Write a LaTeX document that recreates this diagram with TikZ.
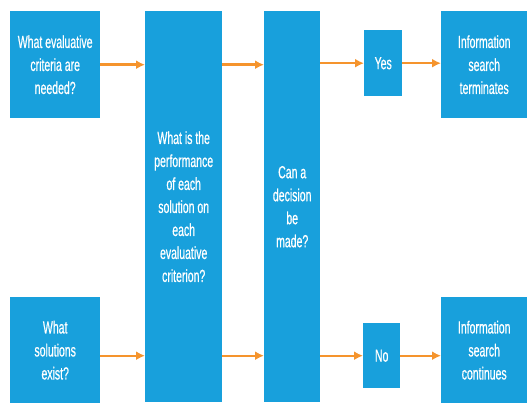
\documentclass[tikz,border=0pt]{standalone}
\usepackage{fontspec}
\setmainfont{Liberation Sans}[FakeStretch=0.6,FakeBold=0.6]
\usetikzlibrary{arrows.meta}

\definecolor{boxblue}{RGB}{24,160,220}
\definecolor{flowor}{RGB}{245,148,45}

\begin{document}
\begin{tikzpicture}[x=1pt,y=-1pt,>={Latex[length=9pt,width=9pt]},
  box/.style={fill=boxblue,text=white,align=center,inner sep=0pt,anchor=north west,
    font=\fontsize{17.5}{23}\selectfont},
  flow/.style={->,color=flowor,line width=2.4pt}]

\useasboundingbox (0,0) rectangle (527,403);

% left column
\node[box,minimum width=90pt,minimum height=107pt] (crit) at (10,11)
  {What evaluative\\criteria are\\needed?};
\node[box,minimum width=90pt,minimum height=106pt] (sol) at (10,297)
  {What\\solutions\\exist?};

% the two tall boxes
\node[box,minimum width=77pt,minimum height=391pt] (perf) at (145,11)
  {What is the\\performance\\of each\\solution on\\each\\evaluative\\criterion?};
\node[box,minimum width=56pt,minimum height=391pt] (dec) at (264,11)
  {Can a\\decision\\be\\made?};

% answers
\node[box,minimum width=38pt,minimum height=66pt] (yes) at (364,30) {Yes};
\node[box,minimum width=37pt,minimum height=65pt] (no) at (363,323) {No};

% outcomes
\node[box,minimum width=86pt,minimum height=107pt] (term) at (441,11)
  {Information\\search\\terminates};
\node[box,minimum width=86pt,minimum height=106pt] (cont) at (441,297)
  {Information\\search\\continues};

% top row
\draw[flow] (crit.east) -- (crit.east -| perf.west);
\draw[flow] (crit.east -| perf.east) -- (crit.east -| dec.west);
\draw[flow] (yes.west -| dec.east) -- (yes.west);
\draw[flow] (yes.east) -- (yes.east -| term.west);

% bottom row
\draw[flow] (sol.east |- no.west) -- (perf.west |- no.west);
\draw[flow] (perf.east |- no.west) -- (dec.west |- no.west);
\draw[flow] (dec.east |- no.west) -- (no.west);
\draw[flow] (no.east) -- (no.east -| cont.west);

\end{tikzpicture}
\end{document}
